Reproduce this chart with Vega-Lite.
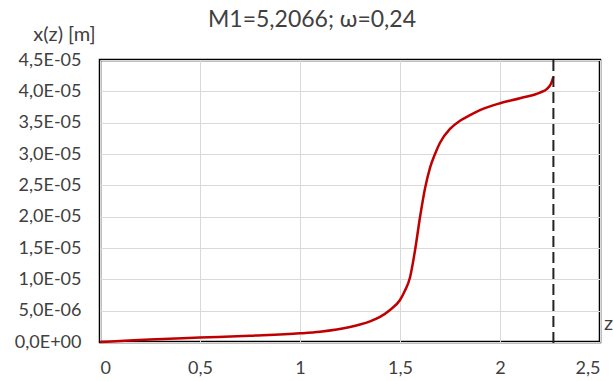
{
  "$schema": "https://vega.github.io/schema/vega-lite/v6.json",
  "width": 500,
  "height": 282,
  "autosize": {"type": "none"},
  "padding": {"left": 100, "top": 60, "right": 13, "bottom": 39},
  "background": "white",
  "config": {
    "font": "Lato",
    "view": {"stroke": "#000000", "strokeWidth": 2.5},
    "axis": {"labelFont": "Lato", "titleFont": "Lato", "labelColor": "#404040", "titleColor": "#404040", "labelFontSize": 18, "titleFontSize": 20, "titleFontWeight": "normal", "gridColor": "#d9d9d9", "gridWidth": 1, "domain": false, "ticks": false, "labelOverlap": false}
  },
  "title": {
    "text": "M1=5,2066; ω=0,24",
    "frame": "group",
    "anchor": "start",
    "dx": 108,
    "offset": -26,
    "baseline": "alphabetic",
    "font": "Lato",
    "fontSize": 23,
    "fontWeight": "normal",
    "color": "#404040"
  },
  "datasets": {
    "curve": [
      {"z": 0, "x": 0},
      {"z": 0.1, "x": 1.5e-7},
      {"z": 0.25, "x": 4.0e-7},
      {"z": 0.5, "x": 7.0e-7},
      {"z": 0.75, "x": 1.0e-6},
      {"z": 1.0, "x": 1.38e-6},
      {"z": 1.1, "x": 1.65e-6},
      {"z": 1.25, "x": 2.4e-6},
      {"z": 1.3, "x": 2.8e-6},
      {"z": 1.35, "x": 3.3e-6},
      {"z": 1.4, "x": 4.0e-6},
      {"z": 1.45, "x": 5.1e-6},
      {"z": 1.5, "x": 6.7e-6},
      {"z": 1.525, "x": 8.2e-6},
      {"z": 1.55, "x": 1.03e-5},
      {"z": 1.575, "x": 1.46e-5},
      {"z": 1.6, "x": 1.99e-5},
      {"z": 1.625, "x": 2.45e-5},
      {"z": 1.65, "x": 2.78e-5},
      {"z": 1.675, "x": 3.0e-5},
      {"z": 1.7, "x": 3.18e-5},
      {"z": 1.75, "x": 3.4e-5},
      {"z": 1.8, "x": 3.53e-5},
      {"z": 1.85, "x": 3.62e-5},
      {"z": 1.9, "x": 3.7e-5},
      {"z": 2.0, "x": 3.81e-5},
      {"z": 2.1, "x": 3.89e-5},
      {"z": 2.2, "x": 3.98e-5},
      {"z": 2.235, "x": 4.04e-5},
      {"z": 2.255, "x": 4.12e-5},
      {"z": 2.267, "x": 4.23e-5}
    ],
    "limit": [{"z": 2.267, "top": 4.5e-5, "bottom": -3e-7}]
  },
  "layer": [
    {
      "data": {"name": "curve"},
      "mark": {"type": "line", "color": "#c00000", "strokeWidth": 2.5, "interpolate": "monotone"},
      "encoding": {
        "x": {
          "field": "z", "type": "quantitative",
          "scale": {"domain": [0, 2.5], "nice": false},
          "axis": {
            "values": [0, 0.5, 1, 1.5, 2, 2.5],
            "tickCount": 6,
            "labelExpr": "replace(format(datum.value, '~g'), '.', ',')",
            "labelOverlap": false,
            "labelPadding": 17,
            "title": "z",
            "titleX": 508,
            "titleY": -19,
            "titleAlign": "center",
            "titleBaseline": "middle"
          }
        },
        "y": {
          "field": "x", "type": "quantitative",
          "scale": {"domain": [0, 4.5e-5], "nice": false, "zero": true},
          "axis": {
            "values": [0, 5e-6, 1e-5, 1.5e-5, 2e-5, 2.5e-5, 3e-5, 3.5e-5, 4e-5, 4.5e-5],
            "tickCount": 10,
            "labelExpr": "datum.value == 0 ? '0,0E+00' : (datum.value < 9.9e-6 ? replace(format(datum.value*1e6, '.1f'), '.', ',') + 'E-06' : replace(format(datum.value*1e5, '.1f'), '.', ',') + 'E-05')",
            "labelOverlap": false,
            "labelPadding": 19,
            "title": "x(z) [m]",
            "titleAngle": 0,
            "titleX": -36,
            "titleY": -20,
            "titleAlign": "center",
            "titleBaseline": "alphabetic"
          }
        }
      }
    },
    {
      "data": {"name": "limit"},
      "mark": {"type": "rule", "color": "#222222", "strokeWidth": 2, "strokeDash": [11, 5], "clip": false},
      "encoding": {
        "x": {"field": "z", "type": "quantitative"},
        "y": {"field": "top", "type": "quantitative"},
        "y2": {"field": "bottom"}
      }
    }
  ]
}
